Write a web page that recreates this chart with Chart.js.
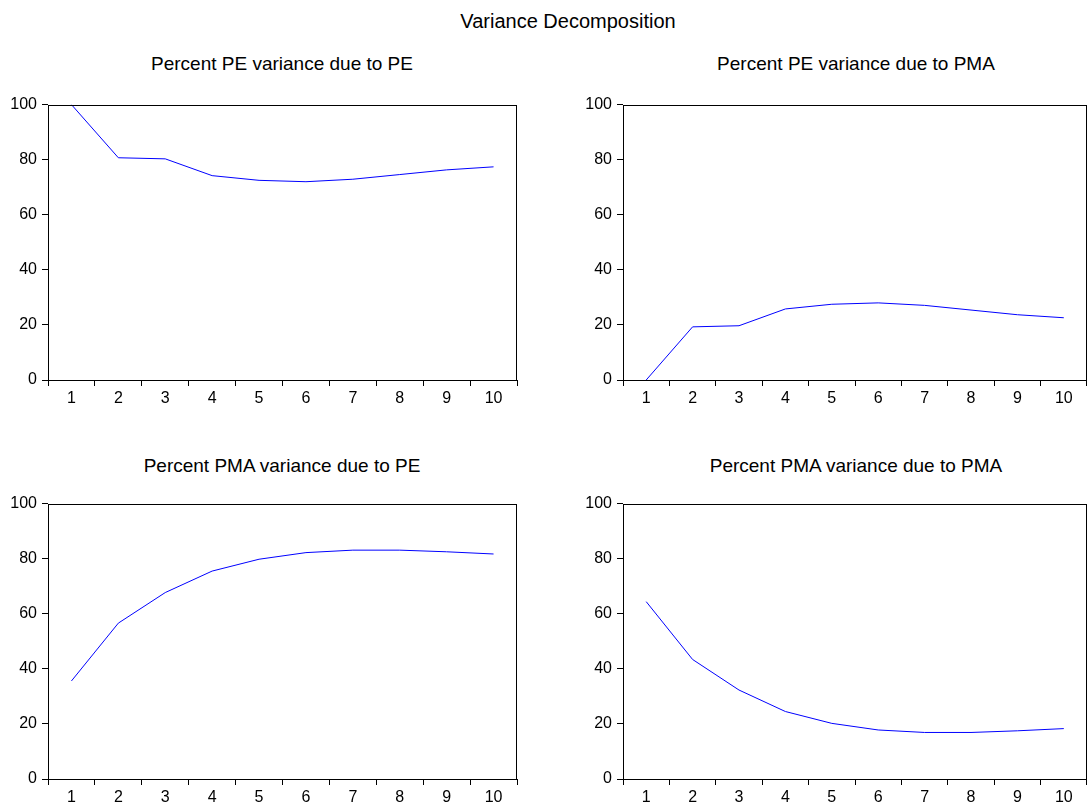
<!DOCTYPE html>
<html>
<head>
<meta charset="utf-8">
<script src="https://cdn.jsdelivr.net/npm/chart.js@4.4.1/dist/chart.umd.min.js"></script>
<style>
  html, body { margin: 0; padding: 0; background: #fff; }
  body { position: relative; width: 1088px; height: 803px; overflow: hidden; font-family: "Liberation Sans", Arial, sans-serif; color: #000; }
  canvas { position: absolute; }
  .title { position: absolute; line-height: 1; white-space: nowrap; transform: translateX(-50%); }
</style>
</head>
<body>
<div class="title" style="left:568px; top:11px; font-size:20px;">Variance Decomposition</div>
<div class="title" style="left:282px; top:54px; font-size:19px;">Percent PE variance due to PE</div>
<div class="title" style="left:856px; top:54px; font-size:19px;">Percent PE variance due to PMA</div>
<div class="title" style="left:282px; top:456px; font-size:19px;">Percent PMA variance due to PE</div>
<div class="title" style="left:856px; top:456px; font-size:19px;">Percent PMA variance due to PMA</div>

<canvas id="peDuePE" width="521" height="320" style="left:0px; top:90px;"></canvas>
<canvas id="peDuePMA" width="513" height="320" style="left:575px; top:90px;"></canvas>
<canvas id="pmaDuePE" width="521" height="314" style="left:0px; top:489px;"></canvas>
<canvas id="pmaDuePMA" width="513" height="314" style="left:575px; top:489px;"></canvas>

<script>
const periods = ['1', '2', '3', '4', '5', '6', '7', '8', '9', '10'];

// percent of forecast error variance
const peDuePE = [100, 80.7, 80.3, 74.2, 72.5, 72.0, 72.9, 74.6, 76.3, 77.4];
const peDuePMA = [0, 19.3, 19.7, 25.8, 27.5, 28.0, 27.1, 25.4, 23.7, 22.6];
const pmaDuePE = [35.6, 56.6, 67.7, 75.5, 79.8, 82.2, 83.1, 83.1, 82.5, 81.7];
const pmaDuePMA = [64.4, 43.4, 32.3, 24.5, 20.2, 17.8, 16.9, 16.9, 17.5, 18.3];

const yMin = 0;
const yMax = 100;
const yStep = 20;

const tickFont = { family: '"Liberation Sans", Arial, sans-serif', size: 16 };

// box round the plot area
const framePlugin = {
  id: 'frame',
  afterDraw(chart) {
    const a = chart.chartArea;
    const ctx = chart.ctx;
    ctx.save();
    ctx.strokeStyle = '#000';
    ctx.lineWidth = 1;
    ctx.strokeRect(Math.round(a.left) + 0.5, Math.round(a.top) + 0.5,
      Math.round(a.right - a.left) - 1, Math.round(a.bottom - a.top));
    ctx.restore();
  },
};

function makeChart(id, values, xHeight, padRight) {
  const el = document.getElementById(id);
  return new Chart(el.getContext('2d'), {
    type: 'line',
    data: {
      labels: periods,
      datasets: [{
        data: values,
        borderColor: '#0000ff',
        borderWidth: 1,
        pointRadius: 0,
        tension: 0,
        fill: false,
      }],
    },
    options: {
      responsive: false,
      animation: false,
      devicePixelRatio: 1,
      layout: { padding: { top: 10, right: padRight, bottom: 0, left: 0 } },
      plugins: { legend: { display: false }, tooltip: { enabled: false }, title: { display: false } },
      scales: {
        x: {
          offset: true,
          grid: { offset: true, drawOnChartArea: false, drawTicks: true, tickLength: 6, color: '#000' },
          border: { display: false },
          ticks: { color: '#000', font: tickFont, padding: 3, maxRotation: 0, autoSkip: false },
          afterFit: scale => { scale.height = xHeight; },
        },
        y: {
          min: yMin,
          max: yMax,
          grid: { drawOnChartArea: false, drawTicks: true, tickLength: 6, color: '#000' },
          border: { display: false },
          ticks: { stepSize: yStep, color: '#000', font: tickFont, padding: 5 },
          afterFit: scale => { scale.width = 48; },
        },
      },
    },
    plugins: [framePlugin],
  });
}

makeChart('peDuePE', peDuePE, 30, 4);
makeChart('peDuePMA', peDuePMA, 30, 1);
makeChart('pmaDuePE', pmaDuePE, 24, 4);
makeChart('pmaDuePMA', pmaDuePMA, 24, 1);
</script>
</body>
</html>
